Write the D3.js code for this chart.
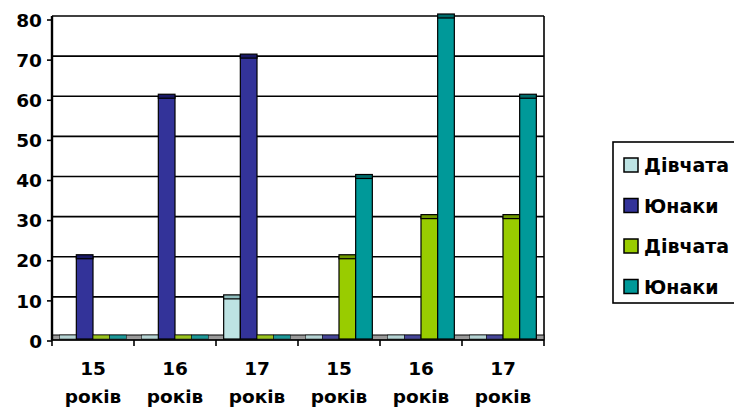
<!DOCTYPE html>
<html><head><meta charset="utf-8">
<script src="https://cdn.jsdelivr.net/npm/d3@7"></script>
<style>body{margin:0;background:#fff}svg{display:block}
svg text{font-family:"DejaVu Sans",sans-serif;font-weight:bold;fill:#000}</style>
</head><body>
<svg id="c" width="734" height="412"></svg>
<script>
const categories = ["15 років","16 років","17 років","15 років","16 років","17 років"];
const seriesNames = ["Дівчата","Юнаки","Дівчата","Юнаки"];
const series1 = [0,0,10,0,0,0];
const series2 = [20,60,70,0,0,0];
const series3 = [0,0,0,20,30,30];
const series4 = [0,0,0,40,80,60];
const yTicks = [0,10,20,30,40,50,60,70,80];
const colors = ["#BDE3E3","#333399","#99CC00","#009999"];
const capColors = ["#8FBDBD","#1A1A66","#6F9900","#006B6B"];

const allSeries = [series1,series2,series3,series4];
const svg = d3.select("#c");
const L=52, R=544, T=16, B=337;
const x = d3.scaleBand().domain(d3.range(categories.length)).range([L,R]).paddingInner(0).paddingOuter(0);
const inner = d3.scaleBand().domain(d3.range(4)).range([0,x.bandwidth()]).paddingOuter(0.46).paddingInner(0);
const y = d3.scaleLinear().domain([0,80]).range([B,T]);

// gridlines
svg.append("g").selectAll("line").data(yTicks.slice(1)).join("line")
  .attr("x1",L).attr("x2",R).attr("y1",d=>y(d)).attr("y2",d=>y(d))
  .attr("stroke","#000").attr("stroke-width",1.6);
svg.append("line").attr("x1",R).attr("x2",R).attr("y1",T).attr("y2",B+3).attr("stroke","#000").attr("stroke-width",1.6);

// floor
svg.append("rect").attr("x",L).attr("y",B-2).attr("width",R-L).attr("height",5)
  .attr("fill","#9a9a9a").attr("stroke","#000").attr("stroke-width",1);

// bars
allSeries.forEach((s,si)=>{
  const g = svg.append("g");
  g.selectAll("rect.b").data(s).join("rect").attr("class","b")
    .attr("x",(d,i)=>x(i)+inner(si)).attr("width",inner.bandwidth())
    .attr("y",d=>y(d)).attr("height",d=>Math.max(0,y(0)-y(d)+2))
    .attr("fill",colors[si]).attr("stroke","#000").attr("stroke-width",1.2)
    .attr("display",d=>d>0?null:"none");
  g.selectAll("rect.c").data(s).join("rect").attr("class","c")
    .attr("x",(d,i)=>x(i)+inner(si)).attr("width",inner.bandwidth())
    .attr("y",d=>y(d)-2).attr("height",4)
    .attr("fill",d=>d>0?capColors[si]:colors[si]).attr("stroke","#000").attr("stroke-width",d=>d>0?1.2:0.6)
    .attr("opacity",d=>d>0?1:0.8);
});

// y axis (front plane, slightly below back-wall gridlines)
const off = 3.5;
const yAxis = svg.append("g").attr("transform",`translate(${L},${off})`)
  .call(d3.axisLeft(y).tickValues(yTicks).tickSize(5).tickPadding(5));
yAxis.attr("font-size",null).attr("font-family",null);
yAxis.select(".domain").attr("d",`M0,${T-off}V${B+3-off}`).attr("stroke","#000").attr("stroke-width",2.4);
yAxis.selectAll(".tick line").attr("stroke","#000").attr("stroke-width",1.6);
yAxis.selectAll("text").style("font-size","18.5px").attr("dy","0.36em");

// x axis ticks at boundaries
const bounds = d3.range(categories.length+1).map(i=> i<categories.length ? x(i) : R);
svg.append("g").selectAll("line").data(bounds).join("line")
  .attr("x1",d=>d).attr("x2",d=>d).attr("y1",B+3).attr("y2",B+9)
  .attr("stroke","#000").attr("stroke-width",1.6);
svg.append("line").attr("x1",L).attr("x2",R).attr("y1",B+3).attr("y2",B+3).attr("stroke","#000").attr("stroke-width",1.6);

// category labels
const cl = svg.append("g").selectAll("text").data(categories).join("text")
  .attr("text-anchor","middle").style("font-size","18.5px");
cl.append("tspan").attr("x",(d,i)=>x(i)+x.bandwidth()/2).attr("y",375).text(d=>d.split(" ")[0]);
cl.append("tspan").attr("x",(d,i)=>x(i)+x.bandwidth()/2).attr("y",403).text(d=>d.split(" ")[1]);

// legend
const lg = svg.append("g");
lg.append("rect").attr("x",613).attr("y",142).attr("width",140).attr("height",161)
  .attr("fill","#fff").attr("stroke","#000").attr("stroke-width",1.6);
const items = lg.selectAll("g").data(seriesNames).join("g")
  .attr("transform",(d,i)=>`translate(624,${165+i*40.5})`);
items.append("rect").attr("x",0).attr("y",-7).attr("width",14).attr("height",14)
  .attr("fill",(d,i)=>colors[i]).attr("stroke","#000").attr("stroke-width",1.5);
items.append("text").attr("x",20).attr("y",7).text(d=>d).style("font-size","19px");
</script>
</body></html>
